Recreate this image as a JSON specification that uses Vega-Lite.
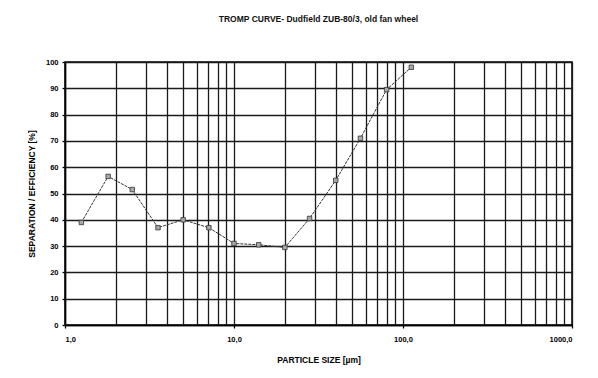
{
  "$schema": "https://vega.github.io/schema/vega-lite/v6.json",
  "width": 507,
  "height": 263,
  "autosize": {"type": "none"},
  "padding": {"left": 65, "top": 62, "right": 26, "bottom": 53},
  "background": "white",
  "title": {
    "text": "TROMP CURVE- Dudfield ZUB-80/3, old fan wheel",
    "font": "Liberation Sans",
    "fontSize": 8.5,
    "fontWeight": "bold",
    "color": "#111111",
    "anchor": "middle",
    "offset": 35
  },
  "config": {
    "view": {"stroke": "black", "strokeWidth": 1.5},
    "axis": {
      "labelFont": "Liberation Sans",
      "labelFontSize": 7.5,
      "labelFontWeight": "bold",
      "labelColor": "black",
      "titleFont": "Liberation Sans",
      "titleFontSize": 8.5,
      "titleFontWeight": "bold",
      "titleColor": "black",
      "domainColor": "black",
      "domainWidth": 1.5,
      "gridColor": "#1a1a1a",
      "gridWidth": 1.3,
      "gridOpacity": 1,
      "tickWidth": 1.3
    }
  },
  "data": {
    "values": [
      {"size": 1.25, "eff": 39},
      {"size": 1.8, "eff": 56.5},
      {"size": 2.5, "eff": 51.5},
      {"size": 3.55, "eff": 37},
      {"size": 5, "eff": 40},
      {"size": 7.1, "eff": 37},
      {"size": 10, "eff": 31},
      {"size": 14, "eff": 30.5},
      {"size": 20, "eff": 29.5},
      {"size": 28, "eff": 40.5},
      {"size": 40, "eff": 55},
      {"size": 56, "eff": 71},
      {"size": 80, "eff": 89.5},
      {"size": 112, "eff": 98}
    ]
  },
  "encoding": {
    "x": {
      "field": "size",
      "type": "quantitative",
      "scale": {"type": "log", "domain": [1, 1000], "nice": false},
      "axis": {
        "title": "PARTICLE SIZE [µm]",
        "titlePadding": 13,
        "values": [1,2,3,4,5,6,7,8,9,10,20,30,40,50,60,70,80,90,100,200,300,400,500,600,700,800,900,1000],
        "labelExpr": "indexof([1,10,100,1000], datum.value) >= 0 ? replace(format(datum.value, '.1f'), '.', ',') : ''",
        "tickSize": 3,
        "tickColor": {"condition": {"test": "indexof([1,10,100,1000], datum.value) >= 0", "value": "black"}, "value": "transparent"},
        "labelPadding": 7,
        "labelOverlap": false,
        "grid": true
      }
    },
    "y": {
      "field": "eff",
      "type": "quantitative",
      "scale": {"domain": [0, 100], "nice": false},
      "axis": {
        "title": "SEPARATION  /  EFFICIENCY [%]",
        "values": [0,10,20,30,40,50,60,70,80,90,100],
        "tickSize": 3,
        "tickColor": "black",
        "labelPadding": 4,
        "titlePadding": 9,
        "grid": true
      }
    }
  },
  "layer": [
    {"mark": {"type": "line", "color": "#333333", "strokeWidth": 1, "strokeDash": [3, 1]}},
    {"mark": {"type": "point", "shape": "square", "size": 20, "filled": true, "fill": "#a8a8a8", "stroke": "#333333", "strokeWidth": 0.8, "opacity": 1}}
  ]
}
